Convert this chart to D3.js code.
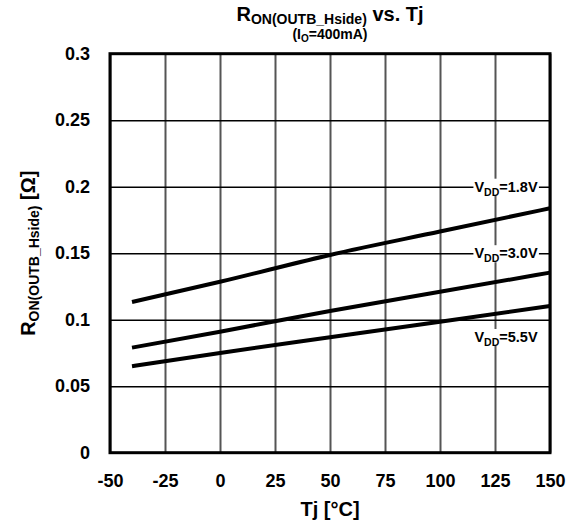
<!DOCTYPE html>
<html>
<head>
<meta charset="utf-8">
<script src="https://cdn.jsdelivr.net/npm/d3@7"></script>
<style>
  body { margin: 0; background: #fff; }
  text { font-family: "Liberation Sans", Arial, sans-serif; font-weight: bold; fill: #000; }
</style>
</head>
<body>
<svg id="chart" width="575" height="529"></svg>
<script>
// temperatures (Tj, degC) where the curves were read
const tj = [-40, 0, 50, 100, 150];

// Ron in ohm for each supply
const ron18 = [0.1133, 0.1285, 0.1487, 0.1663, 0.1838];
const ron30 = [0.0790, 0.0910, 0.1065, 0.1210, 0.1354];
const ron55 = [0.0650, 0.0750, 0.0868, 0.0985, 0.1103];

const seriesNames = ['1.8V', '3.0V', '5.5V'];
// where each label sits (Tj, Ron)
const labelTj = [130, 130, 130];
const labelRon = [0.2, 0.15, 0.087];

const xTickValues = [-50, -25, 0, 25, 50, 75, 100, 125, 150];
const xTickLabels = ['-50', '-25', '0', '25', '50', '75', '100', '125', '150'];
const yTickValues = [0, 0.05, 0.1, 0.15, 0.2, 0.25, 0.3];
const yTickLabels = ['0', '0.05', '0.1', '0.15', '0.2', '0.25', '0.3'];

const svg = d3.select('#chart');
const width = 575, height = 529;
const margin = { top: 53.7, right: 25, bottom: 76.3, left: 110 };
const innerWidth = width - margin.left - margin.right;
const innerHeight = height - margin.top - margin.bottom;

const xScale = d3.scaleLinear().domain([-50, 150]).range([0, innerWidth]);
const yScale = d3.scaleLinear().domain([0, 0.3]).range([innerHeight, 0]);

const g = svg.append('g')
    .attr('transform', `translate(${margin.left},${margin.top})`);

// vertical grid
const xGrid = g.append('g')
    .attr('transform', `translate(0,${innerHeight})`)
    .call(d3.axisBottom(xScale).tickValues(xTickValues).tickSize(-innerHeight));
xGrid.select('.domain').remove();
xGrid.selectAll('text').remove();
xGrid.selectAll('line').attr('stroke', '#555').attr('stroke-width', 2);

// horizontal grid
const yGrid = g.append('g')
    .call(d3.axisLeft(yScale).tickValues(yTickValues).tickSize(-innerWidth));
yGrid.select('.domain').remove();
yGrid.selectAll('text').remove();
yGrid.selectAll('line').attr('stroke', '#000').attr('stroke-width', 1.5);

// tick labels
const xAxisG = g.append('g')
    .attr('transform', `translate(0,${innerHeight})`)
    .call(d3.axisBottom(xScale).tickValues(xTickValues).tickSize(0).tickPadding(22)
        .tickFormat((d, i) => xTickLabels[i]));
xAxisG.select('.domain').remove();
xAxisG.selectAll('text')
    .style('font-size', '18px')
    .style('font-family', '"Liberation Sans", Arial, sans-serif')
    .style('font-weight', 'bold');

const yAxisG = g.append('g')
    .call(d3.axisLeft(yScale).tickValues(yTickValues).tickSize(0).tickPadding(20)
        .tickFormat((d, i) => yTickLabels[i]));
yAxisG.select('.domain').remove();
yAxisG.selectAll('text')
    .style('font-size', '18px')
    .style('font-family', '"Liberation Sans", Arial, sans-serif')
    .style('font-weight', 'bold');

// lines
const allSeries = [ron18, ron30, ron55];
const line = d3.line()
    .x((d, i) => xScale(tj[i]))
    .y(d => yScale(d))
    .curve(d3.curveMonotoneX);

g.selectAll('path.series').data(allSeries)
    .enter().append('path')
    .attr('class', 'series')
    .attr('d', line)
    .attr('fill', 'none')
    .attr('stroke', '#000')
    .attr('stroke-width', 4);

// series labels with white box
seriesNames.forEach((name, i) => {
    const lg = g.append('g')
        .attr('transform', `translate(${xScale(labelTj[i])},${yScale(labelRon[i])})`);
    const bg = lg.append('rect').attr('fill', '#fff');
    const t = lg.append('text')
        .attr('text-anchor', 'middle')
        .attr('y', 5)
        .style('font-size', '14.5px');
    t.append('tspan').text('V');
    t.append('tspan').attr('dy', 4).style('font-size', '10.5px').text('DD');
    t.append('tspan').attr('dy', -4).text('=' + name);
    const bb = t.node().getBBox();
    bg.attr('x', bb.x - 1).attr('y', -8).attr('width', bb.width + 2).attr('height', 17);
});

// frame
g.append('rect')
    .attr('width', innerWidth)
    .attr('height', innerHeight)
    .attr('fill', 'none')
    .attr('stroke', '#000')
    .attr('stroke-width', 3);

// title
const title = svg.append('text')
    .attr('x', margin.left + innerWidth / 2)
    .attr('y', 21)
    .attr('text-anchor', 'middle')
    .style('font-size', '20px');
title.append('tspan').text('R');
title.append('tspan').attr('dy', 3).style('font-size', '14px').text('ON(OUTB_Hside)');
title.append('tspan').attr('dy', -3).text(' vs. Tj');

const sub = svg.append('text')
    .attr('x', margin.left + innerWidth / 2)
    .attr('y', 39)
    .attr('text-anchor', 'middle')
    .style('font-size', '14px');
sub.append('tspan').text('(I');
sub.append('tspan').attr('dy', 3).style('font-size', '10px').text('O');
sub.append('tspan').attr('dy', -3).text('=400mA)');

// axis titles
svg.append('text')
    .attr('x', margin.left + innerWidth / 2)
    .attr('y', 516)
    .attr('text-anchor', 'middle')
    .style('font-size', '20px')
    .text('Tj [°C]');

const yTitle = svg.append('text')
    .attr('transform', `translate(35,${margin.top + innerHeight / 2}) rotate(-90)`)
    .attr('text-anchor', 'middle')
    .style('font-size', '20px');
yTitle.append('tspan').text('R');
yTitle.append('tspan').attr('dy', 4).style('font-size', '14px').text('ON(OUTB_Hside)');
yTitle.append('tspan').attr('dy', -4).text(' [Ω]');
</script>
</body>
</html>
